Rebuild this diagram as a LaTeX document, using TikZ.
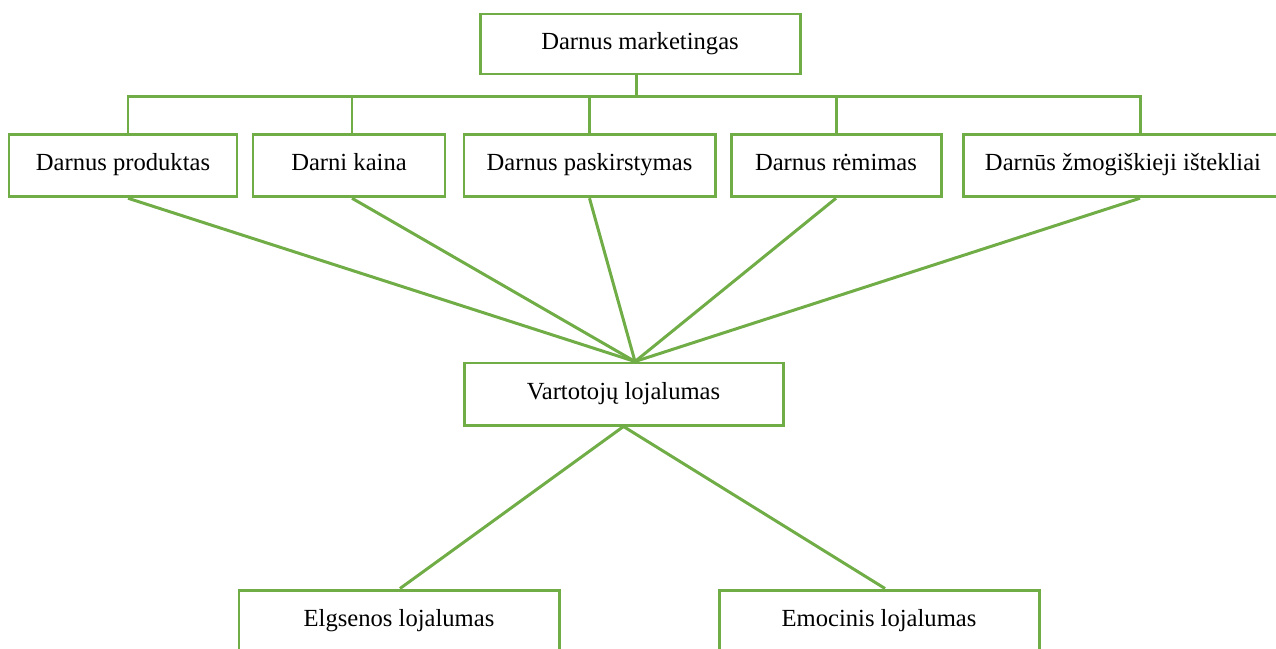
\documentclass[tikz,border=0pt]{standalone}
\usepackage{fontspec}
\setmainfont{Liberation Serif}
\usetikzlibrary{calc}
\definecolor{lgreen}{RGB}{112,173,71}
\tikzset{every node/.style={font=\fontsize{14}{16}\selectfont},box/.style={draw=lgreen,line width=1.7pt,fill=white,inner sep=0pt,minimum height=1.25cm,text height=.8em,text depth=.2em},link/.style={draw=lgreen,line width=1.7pt}}

\begin{document}
\begin{tikzpicture}
\clip (0,0) rectangle (25.52,-12.96);\useasboundingbox (0,0) rectangle (25.52,-12.96);
\node[box,minimum width=6.4cm,minimum height=1.2cm] (dm) at (12.8,-.88){Darnus marketingas};
\node[box,minimum width=4.56cm] (p) at (2.46,-3.31){Darnus produktas};
\node[box,minimum width=3.84cm] (k) at (6.98,-3.31){Darni kaina};
\node[box,minimum width=5.02cm] (d) at (11.79,-3.31){Darnus paskirstymas};
\node[box,minimum width=4.2cm] (r) at (16.72,-3.31){Darnus rėmimas};
\node[box,minimum width=6.4cm] (z) at (22.46,-3.31){Darnūs žmogiškieji ištekliai};
\node[box,minimum width=6.38cm,minimum height=1.24cm] (v) at (12.47,-7.88){Vartotojų lojalumas};
\node[box,minimum width=6.4cm,minimum height=1.24cm] (el) at (7.98,-12.42){Elgsenos lojalumas};
\node[box,minimum width=6.4cm,minimum height=1.24cm] (em) at (17.58,-12.42){Emocinis lojalumas};
% medis
\coordinate (bus) at (0,-1.935);
\coordinate (ps) at ($(p.south)+(.1,0)$);\coordinate (pn) at ($(p.north)+(.1,0)$);
\coordinate (ks) at ($(k.south)+(.06,0)$);\coordinate (kn) at ($(k.north)+(.06,0)$);
\coordinate (zs) at ($(z.south)+(.34,0)$);\coordinate (zn) at ($(z.north)+(.34,0)$);
\coordinate (vn) at ($(v.north)+(.23,0)$);
\draw[link] ($(dm.south)+(-.08,0)$)--($(bus-|dm.south)+(-.08,0)$);
\draw[link] (pn)--(bus-|pn)--(bus-|zn)--(zn);
\foreach \n in {kn,d.north,r.north} \draw[link] (\n)--(bus-|\n);
% i lojaluma
\foreach \n in {ps,ks,d.south,r.south,zs} \draw[link] (\n)--(vn);
\draw[link] (v.south)--($(el.north)+(.02,0)$);
\draw[link] (v.south)--($(em.north)+(.12,0)$);
\end{tikzpicture}
\end{document}
